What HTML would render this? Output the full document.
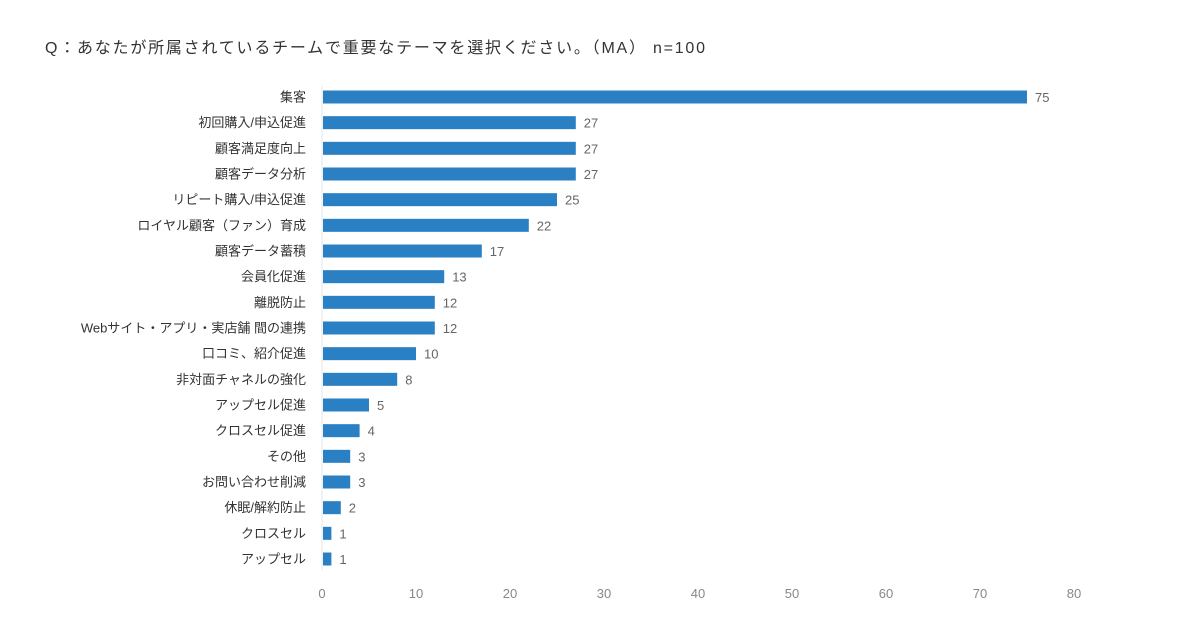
<!DOCTYPE html>
<html><head><meta charset="utf-8"><style>
body{margin:0;background:#fff;font-family:"Liberation Sans","Noto Sans CJK JP",sans-serif;}
svg text{font-family:"Liberation Sans","Noto Sans CJK JP",sans-serif;}
</style></head><body>
<svg id="chart" width="1200" height="630">
<text x="45" y="53" font-size="16" fill="#333" textLength="660" lengthAdjust="spacing">Q：あなたが所属されているチームで重要なテーマを選択ください。（MA） n=100</text>
<g id="g"></g>
</svg>
<script>
const categories=["集客","初回購入/申込促進","顧客満足度向上","顧客データ分析","リピート購入/申込促進","ロイヤル顧客（ファン）育成","顧客データ蓄積","会員化促進","離脱防止","Webサイト・アプリ・実店舗 間の連携","口コミ、紹介促進","非対面チャネルの強化","アップセル促進","クロスセル促進","その他","お問い合わせ削減","休眠/解約防止","クロスセル","アップセル"];
const values=[75,27,27,27,25,22,17,13,12,12,10,8,5,4,3,3,2,1,1];
const ticks=[0,10,20,30,40,50,60,70,80];
const NS="http://www.w3.org/2000/svg";
const g=document.getElementById('g');
const x0=322,x1=1074,maxV=80;
const xs=v=>x0+(x1-x0)*v/maxV;
const y0=97,step=(559-97)/(categories.length-1);
const ys=i=>y0+i*step;
function mk(t,a){const e=document.createElementNS(NS,t);for(const k in a)e.setAttribute(k,a[k]);g.appendChild(e);return e;}
const ax=mk('line',{x1:x0,y1:86,x2:x0,y2:570,stroke:'#e6e6e6','stroke-width':1});


ticks.forEach(t=>{const e=mk('text',{x:xs(t),y:598,'font-size':13,fill:'#888','text-anchor':'middle'});e.textContent=t;

});
categories.forEach((c,i)=>{
const y=ys(i);
const l=mk('text',{x:306,y:y+4.5,'font-size':13,fill:'#333','text-anchor':'end'});l.textContent=c;


const b=mk('rect',{x:x0+1,y:y-6.5,width:xs(values[i])-x0-1,height:13,fill:'#2b80c3'});


const v=mk('text',{x:xs(values[i])+8,y:y+5,'font-size':13,fill:'#666'});v.textContent=values[i];


});
</script>
</body></html>
